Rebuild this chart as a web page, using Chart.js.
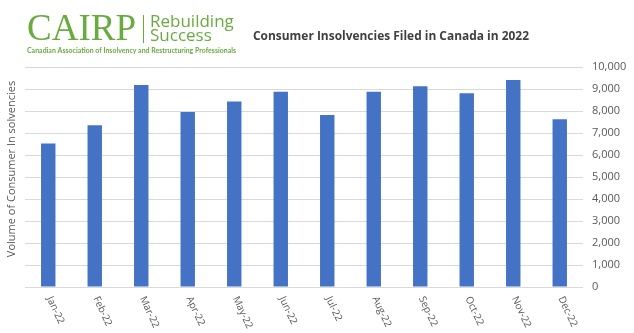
<!DOCTYPE html>
<html>
<head>
<meta charset="utf-8">
<script src="https://cdn.jsdelivr.net/npm/chart.js@4"></script>
<style>
  body { margin: 0; background: #fff; }
  #wrap { width: 634px; height: 333px; position: relative; }
</style>
</head>
<body>
<div id="wrap"><canvas id="graph-insolvencies"></canvas></div>
<script>
var months = ['Jan-22', 'Feb-22', 'Mar-22', 'Apr-22', 'May-22', 'Jun-22',
    'Jul-22', 'Aug-22', 'Sep-22', 'Oct-22', 'Nov-22', 'Dec-22'];
var filings = [6525, 7350, 9180, 7955, 8430, 8870, 7815, 8870, 9125, 8810, 9410, 7620];
var yMin = 0, yMax = 10000, yStep = 1000;

var chartTitle = 'Consumer Insolvencies Filed in Canada in 2022';
var yTitle = 'Volume of Consumer In solvencies';

var green = '#6aab3f';
var gray = '#595959';

// logo, title, axis title and slanted month labels
var extras = {
    id: 'extras',
    afterDraw: function (chart) {
        var ctx = chart.ctx;
        var xs = chart.scales.x;
        ctx.save();

        // logo
        ctx.fillStyle = green;
        ctx.textBaseline = 'alphabetic';
        ctx.textAlign = 'left';
        ctx.font = '37px "Liberation Serif"';
        ctx.fillText('CAIRP', 27, 40, 110);
        ctx.fillRect(143, 15, 1, 28);
        ctx.font = '17px "Open Sans"';
        ctx.fillText('Rebuilding', 150, 27);
        ctx.fillText('Success', 150, 41);
        ctx.font = 'bold 7.5px Lato';
        ctx.fillText('Canadian Association of Insolvency and Restructuring Professionals', 27, 53, 209);

        // title
        ctx.fillStyle = '#404040';
        ctx.font = 'bold 12.5px "Open Sans"';
        ctx.textAlign = 'center';
        ctx.fillText(chartTitle, 391, 40, 276);

        // y axis title
        ctx.fillStyle = gray;
        ctx.font = '11px "Open Sans"';
        ctx.save();
        ctx.translate(12, 169);
        ctx.rotate(-Math.PI / 2);
        ctx.textBaseline = 'middle';
        ctx.fillText(yTitle, 0, 0);
        ctx.restore();

        // month labels, slanted downwards
        ctx.font = '10px "Open Sans"';
        ctx.textAlign = 'left';
        ctx.textBaseline = 'middle';
        for (var i = 0; i < months.length; i++) {
            var x = xs.getPixelForValue(i);
            ctx.save();
            ctx.translate(x + 1, 297);
            ctx.rotate(65 * Math.PI / 180);
            ctx.fillText(months[i], 0, 0);
            ctx.restore();
        }
        ctx.restore();
    }
};

new Chart('graph-insolvencies', {
    type: 'bar',
    data: {
        labels: months,
        datasets: [{
            data: filings,
            backgroundColor: '#4472c4',
            borderWidth: 0,
            barPercentage: 0.31,
            categoryPercentage: 1
        }]
    },
    options: {
        responsive: true,
        maintainAspectRatio: false,
        animation: false,
        layout: { padding: { left: 25, top: 67, right: 0, bottom: 0 } },
        plugins: { legend: { display: false }, tooltip: { enabled: false } },
        scales: {
            x: {
                grid: { display: false },
                border: { display: false },
                ticks: { display: false },
                afterFit: function (scale) { scale.height = 46; }
            },
            y: {
                position: 'right',
                min: yMin,
                max: yMax,
                grid: { color: '#d9d9d9', drawTicks: false },
                border: { display: false },
                ticks: {
                    stepSize: yStep,
                    padding: 9,
                    color: gray,
                    font: { family: 'Open Sans', size: 11 },
                    callback: function (v) { return v.toLocaleString('en-US'); }
                },
                afterFit: function (scale) { scale.width = 51; }
            }
        }
    },
    plugins: [extras]
});
</script>
</body>
</html>
